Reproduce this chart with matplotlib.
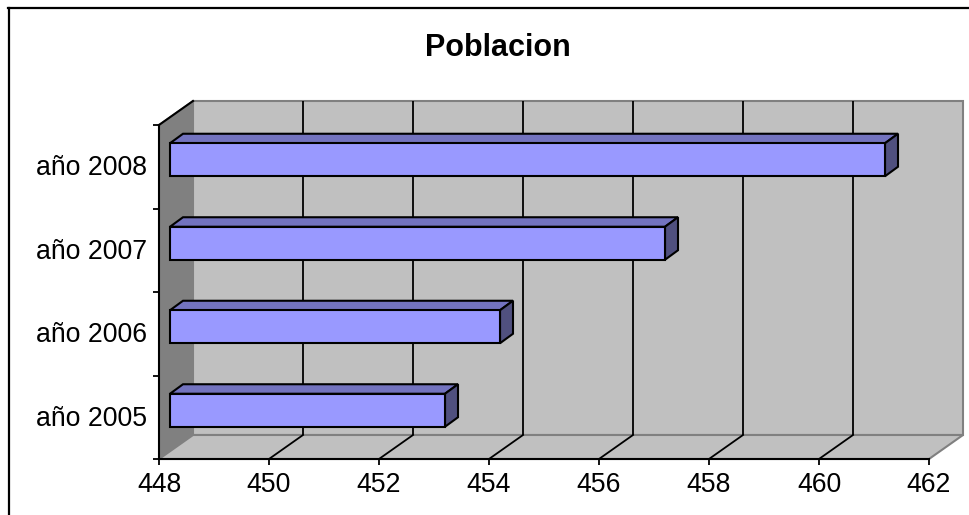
import matplotlib
matplotlib.use("Agg")
import matplotlib.pyplot as plt
from matplotlib.patches import Polygon

categories = ["año 2005", "año 2006", "año 2007", "año 2008"]
values = [453, 454, 457, 461]
x_ticks = [448, 450, 452, 454, 456, 458, 460, 462]
title = "Poblacion"

plt.rcParams['font.family'] = ['Liberation Sans', 'DejaVu Sans']
W, H = 969, 515
fig = plt.figure(figsize=(W / 100, H / 100), dpi=100, facecolor='white')

# figure frame (left and top edges)
fig.add_artist(plt.Line2D([8.5 / W, 8.5 / W], [0, 1 - 8 / H], color='black', lw=1.6))
fig.add_artist(plt.Line2D([8 / W, 1], [1 - 8 / H, 1 - 8 / H], color='black', lw=1.6))

# front plane of the 3D box, in pixels
L, R, T, B = 159, 929, 125, 459
ax = fig.add_axes([L / W, 1 - B / H, (R - L) / W, (B - T) / H])
ax.set_xlim(x_ticks[0], x_ticks[-1])
ax.set_ylim(0, len(categories))
ax.patch.set_visible(False)
sx = (x_ticks[-1] - x_ticks[0]) / (R - L)
sy = len(categories) / (B - T)
ppx = lambda px: px * sx
ppy = lambda px: px * sy


def poly(pts, fc, ec, lw, z):
    ax.add_patch(Polygon(pts, closed=True, fc=fc, ec=ec, lw=lw, zorder=z,
                         clip_on=False, joinstyle='miter'))


x0, x1 = x_ticks[0], x_ticks[-1]
y1 = len(categories)
dx, dy = ppx(34), ppy(24)
grey = '#C0C0C0'
edge = '#808080'
# back wall, side wall, floor
poly([(x0 + dx, dy), (x1 + dx, dy), (x1 + dx, y1 + dy), (x0 + dx, y1 + dy)], grey, edge, 1.5, 1)
poly([(x0, 0), (x0 + dx, dy), (x0 + dx, y1 + dy), (x0, y1)], '#808080', edge, 1.3, 2)
poly([(x0, 0), (x1, 0), (x1 + dx, dy), (x0 + dx, dy)], grey, edge, 1.5, 2)

# gridlines on back wall and floor
for t in x_ticks[1:-1]:
    ax.plot([t + dx, t + dx], [dy, y1 + dy], color='black', lw=1.3, zorder=3,
            clip_on=False, solid_capstyle='butt')
    ax.plot([t, t + dx], [0, dy], color='black', lw=1.3, zorder=3, clip_on=False)

# top edge of side wall
ax.plot([x0, x0 + dx], [y1, y1 + dy], color='black', lw=1.5, zorder=4, clip_on=False)

# bars
bar_dx, bar_dy = ppx(11), ppy(7)
depth_x, depth_y = ppx(13), ppy(9.5)
bar_h = ppy(33)
for i, v in enumerate(values):
    xa = x0 + bar_dx
    xb = v + bar_dx
    ya = i + 0.5 + bar_dy - bar_h / 2
    yb = ya + bar_h
    poly([(xa, yb), (xb, yb), (xb + depth_x, yb + depth_y), (xa + depth_x, yb + depth_y)],
         '#7373BF', 'black', 1.5, 5)
    poly([(xb, ya), (xb + depth_x, ya + depth_y), (xb + depth_x, yb + depth_y), (xb, yb)],
         '#50507F', 'black', 1.5, 5)
    ax.barh(i + 0.5 + bar_dy, v - x0, left=xa, height=bar_h, color='#9999FF',
            edgecolor='black', lw=1.5, zorder=6, clip_on=False)

# axes
for s in ['top', 'right']:
    ax.spines[s].set_visible(False)
for s in ['left', 'bottom']:
    ax.spines[s].set_linewidth(1.5)
    ax.spines[s].set_zorder(7)
ax.set_xticks(x_ticks)
ax.set_xticklabels([str(t) for t in x_ticks], fontsize=19.2)
ax.set_yticks(range(len(categories) + 1))
ax.tick_params(axis='y', length=4, width=1.3, labelleft=False)
ax.tick_params(axis='x', length=4, width=1.3, pad=5)
for i, c in enumerate(categories):
    ax.text(-12 / (R - L), (i + 0.5) / len(categories) - 1.5 / (B - T), c, transform=ax.transAxes,
            ha='right', va='center', fontsize=19.2)

fig.text(497.5 / W, 1 - 48 / H, title, ha='center', va='center', fontsize=22, fontweight='bold')

fig.savefig('out.png', dpi=100)
